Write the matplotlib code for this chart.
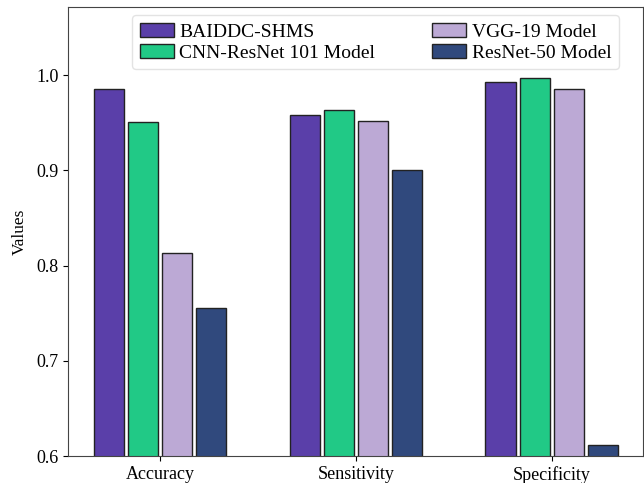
import numpy as np
import matplotlib
matplotlib.use("Agg")
import matplotlib.pyplot as plt

plt.rcParams['font.family'] = ['Liberation Serif', 'DejaVu Serif']

# scores per metric for each model
metrics = ['Accuracy', 'Sensitivity', 'Specificity']
models = ['BAIDDC-SHMS', 'CNN-ResNet 101 Model', 'VGG-19 Model', 'ResNet-50 Model']
baiddc = [0.985, 0.958, 0.993]
cnn_resnet101 = [0.951, 0.963, 0.997]
vgg19 = [0.813, 0.952, 0.985]
resnet50 = [0.755, 0.900, 0.612]
colors = ['#5a3fa9', '#21c986', '#bca9d5', '#30497d']

fig = plt.figure(figsize=(6.44, 4.83), dpi=100)
ax = fig.add_axes([0.1056, 0.0559, 0.8924, 0.9296])

x = np.arange(len(metrics))
step = 0.174
width = 0.155
series = [baiddc, cnn_resnet101, vgg19, resnet50]
for i, (vals, name, c) in enumerate(zip(series, models, colors)):
    ax.bar(x + (i - 1.5) * step, vals, width, color=c, edgecolor='#222222',
           linewidth=1.0, label=name)

ax.set_xlim(-0.469, 2.464)
ax.set_ylim(0.6, 1.0714)
ax.set_xticks(x)
ax.set_xticklabels(metrics, fontsize=13)
ax.set_yticks([0.6, 0.7, 0.8, 0.9, 1.0])
ax.set_yticklabels(['0.6', '0.7', '0.8', '0.9', '1.0'], fontsize=13)
ax.set_ylabel('Values', fontsize=12.5)
ax.yaxis.set_label_coords(-0.07, 0.5)
for s in ax.spines.values():
    s.set_color('#444444')

ax.legend(ncol=2, loc='upper left', bbox_to_anchor=(0.111, 0.982), fontsize=14,
          borderaxespad=0, handlelength=1.75, handleheight=0.75, handletextpad=0.3,
          columnspacing=2.9, labelspacing=0.15, borderpad=0.4, edgecolor='#dddddd')

fig.savefig('out.png', dpi=100)
